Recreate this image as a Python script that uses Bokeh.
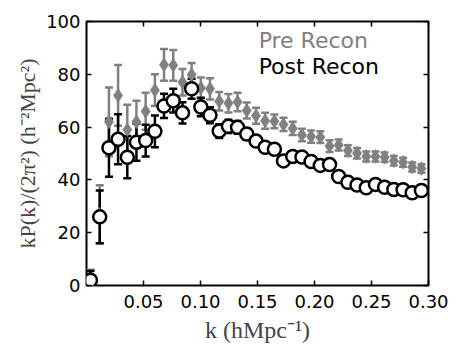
import pandas as pd
from bokeh.plotting import figure
from bokeh.models import (ColumnDataSource, Whisker, TeeHead, FixedTicker, PrintfTickFormatter,
                          LinearAxis, Label, Range1d, CustomJSTickFormatter)
from bokeh.embed import file_html
from bokeh.resources import INLINE

# k bins (h/Mpc)
k = [0.0035, 0.0116, 0.0197, 0.0277, 0.0358, 0.0438, 0.0519, 0.0600, 0.0680, 0.0761,
     0.0842, 0.0922, 0.1003, 0.1083, 0.1164, 0.1245, 0.1325, 0.1406, 0.1487, 0.1567,
     0.1648, 0.1728, 0.1809, 0.1890, 0.1970, 0.2051, 0.2132, 0.2212, 0.2293, 0.2373,
     0.2454, 0.2535, 0.2615, 0.2696, 0.2777, 0.2857, 0.2938]

pre_val = [2.0, 27.0, 62.0, 72.0, 59.0, 62.0, 66.0, 74.0, 83.6, 83.4,
           77.0, 79.8, 74.8, 74.5, 69.8, 69.0, 69.5, 66.3, 64.3, 62.4,
           62.2, 61.0, 59.5, 57.0, 56.4, 56.2, 52.8, 53.2, 51.1, 50.1,
           48.9, 48.9, 48.6, 47.3, 46.7, 44.9, 44.3]
pre_err = [4.0, 11.0, 13.0, 11.5, 9.5, 8.0, 7.0, 6.0, 6.0, 5.8,
           5.0, 4.5, 4.0, 4.0, 3.5, 3.5, 3.5, 3.0, 3.0, 3.0,
           2.6, 2.5, 2.5, 2.4, 2.3, 2.2, 2.2, 2.1, 2.0, 2.0,
           1.9, 1.9, 1.8, 1.8, 1.7, 1.7, 1.6]

post_val = [2.0, 26.0, 52.2, 55.4, 48.6, 54.3, 54.9, 58.4, 68.0, 70.0,
            65.4, 74.5, 67.6, 64.5, 58.5, 60.3, 59.9, 57.4, 54.7, 52.4,
            51.6, 47.2, 48.9, 48.7, 47.0, 45.5, 45.8, 41.3, 39.1, 38.1,
            37.0, 38.3, 37.2, 36.4, 36.3, 35.1, 36.0]
post_err = [3.5, 10.0, 11.0, 9.5, 8.0, 7.0, 6.0, 6.0, 4.6, 4.5,
            4.0, 3.8, 3.5, 3.0, 2.6, 2.5, 2.4, 2.2, 2.0, 2.0,
            1.9, 1.8, 1.7, 1.6, 1.6, 1.5, 1.5, 1.4, 1.4, 1.3,
            1.3, 1.3, 1.2, 1.2, 1.2, 1.2, 1.1]

x_ticks = [0.05, 0.10, 0.15, 0.20, 0.25, 0.30]
y_ticks = [0, 20, 40, 60, 80, 100]

GRAY = "#808080"

df = pd.DataFrame({"k": k, "pre": pre_val, "pre_err": pre_err,
                   "post": post_val, "post_err": post_err})
df["pre_lo"] = df["pre"] - df["pre_err"]
df["pre_hi"] = df["pre"] + df["pre_err"]
df["post_lo"] = df["post"] - df["post_err"]
df["post_hi"] = df["post"] + df["post_err"]
src = ColumnDataSource(df)

p = figure(width=451, height=349, output_backend="svg", toolbar_location=None,
           x_range=Range1d(0.0, 0.30), y_range=Range1d(0, 100),
           min_border_left=86, min_border_right=23, min_border_top=21, min_border_bottom=64)
p.grid.visible = False
p.outline_line_color = "black"
p.outline_line_width = 2
p.background_fill_color = "white"
p.border_fill_color = "white"

# pre recon
p.add_layout(Whisker(source=src, base="k", lower="pre_lo", upper="pre_hi",
                     line_color=GRAY, line_width=2.5,
                     upper_head=TeeHead(size=8, line_color=GRAY, line_width=2.5),
                     lower_head=TeeHead(size=8, line_color=GRAY, line_width=2.5)))
p.scatter("k", "pre", source=src, marker="diamond", size=14, fill_color=GRAY,
          line_color=GRAY, line_width=0.5)

# post recon
p.add_layout(Whisker(source=src, base="k", lower="post_lo", upper="post_hi",
                     line_color="black", line_width=2.5,
                     upper_head=TeeHead(size=8, line_color="black", line_width=2.5),
                     lower_head=TeeHead(size=8, line_color="black", line_width=2.5)))
p.scatter("k", "post", source=src, marker="circle", size=13, fill_color="white",
          line_color="black", line_width=2.5)

def style_axis(ax):
    ax.axis_line_color = None
    ax.major_tick_in = 5
    ax.major_tick_out = 0
    ax.major_tick_line_color = "black"
    ax.major_tick_line_width = 1.5
    ax.minor_tick_line_color = None
    ax.major_label_text_font = "DejaVu Sans"
    ax.major_label_text_font_size = "18px"
    ax.major_label_text_color = "black"

xa = p.xaxis[0]
xa.ticker = FixedTicker(ticks=x_ticks)
xa.formatter = PrintfTickFormatter(format="%.2f")
style_axis(xa)
xa.major_label_standoff = 9
xa.axis_label = "k (hMpc⁻¹)"
xa.axis_label_text_font = "Liberation Serif"
xa.axis_label_text_font_style = "normal"
xa.axis_label_text_font_size = "24px"
xa.axis_label_standoff = 6

ya = p.yaxis[0]
ya.ticker = FixedTicker(ticks=y_ticks)
style_axis(ya)
ya.major_label_standoff = 6
ya.axis_label = "kP(k)/(2π²) (h⁻²Mpc²)"
ya.axis_label_text_font = "Liberation Serif"
ya.axis_label_text_font_style = "normal"
ya.axis_label_text_font_size = "22px"
ya.axis_label_standoff = 3

blank = CustomJSTickFormatter(code="return ''")
top = LinearAxis(ticker=FixedTicker(ticks=x_ticks), formatter=blank)
style_axis(top)
top.major_label_standoff = 0
p.add_layout(top, "above")
right = LinearAxis(ticker=FixedTicker(ticks=y_ticks), formatter=blank)
style_axis(right)
right.major_label_standoff = 0
p.add_layout(right, "right")

p.add_layout(Label(x=0.151, y=92.8, text="Pre Recon", text_color=GRAY,
                   text_font="DejaVu Sans", text_font_size="22px",
                   text_baseline="middle", text_align="left"))
p.add_layout(Label(x=0.151, y=83.0, text="Post Recon", text_color="black",
                   text_font="DejaVu Sans", text_font_size="22px",
                   text_baseline="middle", text_align="left"))

open("out.html", "w").write(file_html(p, INLINE))
